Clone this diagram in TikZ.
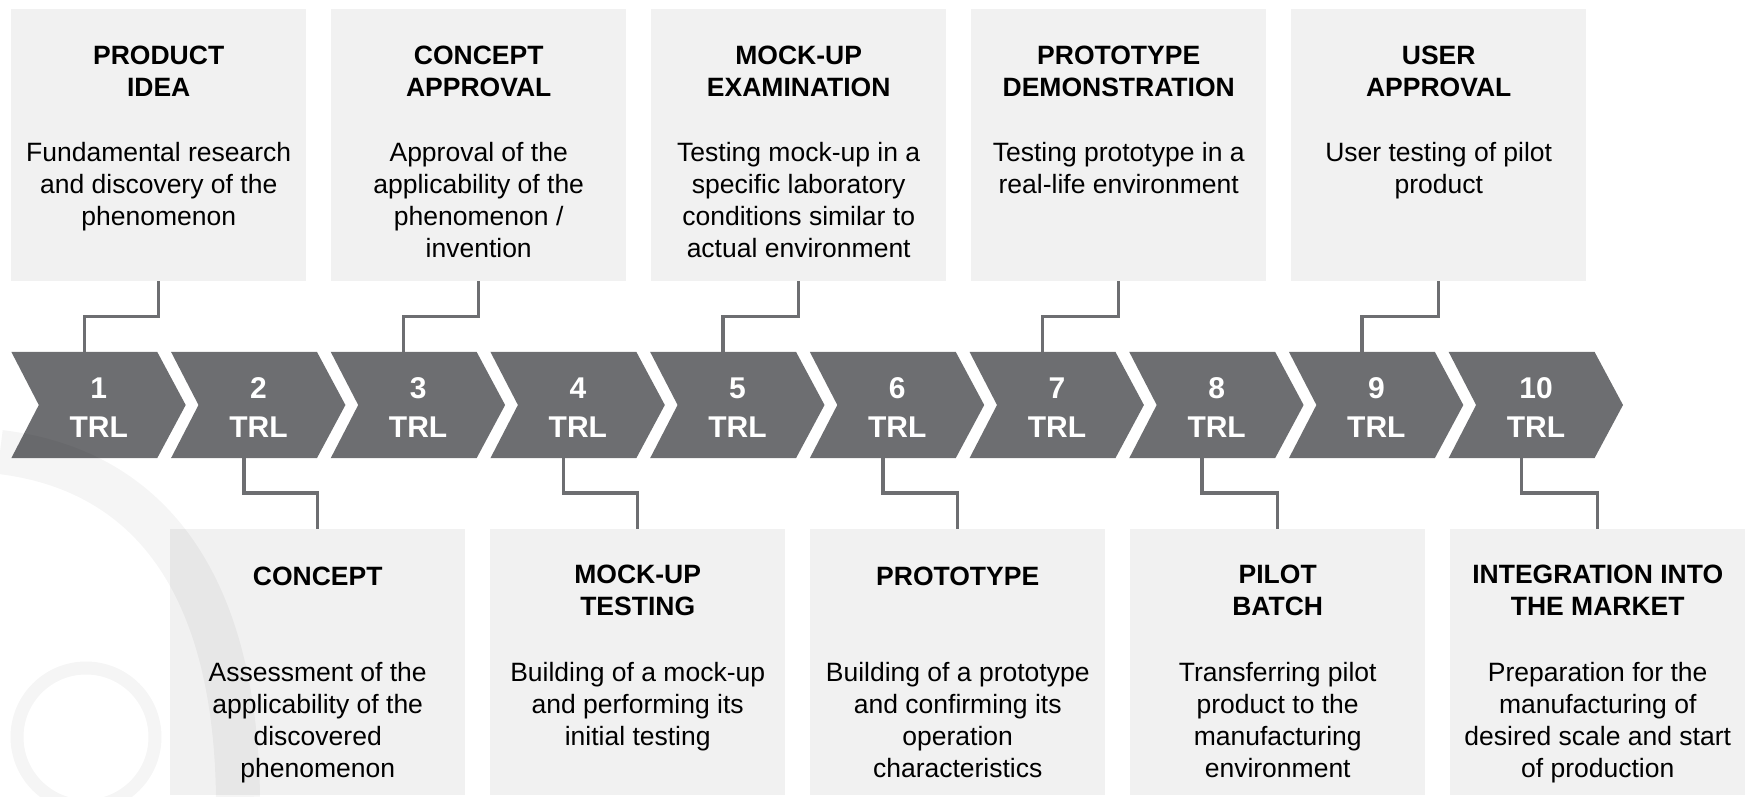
\documentclass[tikz,border=0pt]{standalone}
\usepackage{fontspec}
\setmainfont{Liberation Sans}
\usetikzlibrary{calc}
\pgfdeclarelayer{background}
\pgfsetlayers{background,main}
\definecolor{chev}{HTML}{6D6E71}
\definecolor{boxbg}{HTML}{F1F1F1}
\begin{document}
\begin{tikzpicture}[x=1pt,y=-1pt,
  topbox/.style={fill=boxbg, draw=none, inner sep=0, anchor=north west, minimum width=295pt, minimum height=272pt},
  botbox/.style={topbox, minimum height=266pt},
  ttl/.style={font=\fontsize{26.5}{32}\selectfont\bfseries, align=center, anchor=north, inner sep=0, execute at begin node={\rule{0pt}{20pt}}},
  bdy/.style={font=\fontsize{26.5}{32}\selectfont, align=center, anchor=north, inner sep=0, execute at begin node={\rule{0pt}{20pt}}},
  chevnode/.style={minimum width=145.5pt, minimum height=106pt, inner sep=0},
  chevlabel/.style={inner sep=0, text=white, font=\fontsize{30}{38.5}\selectfont\bfseries, align=center},
  chevshape/.style={fill=chev},
  conn/.style={draw=chev, line width=3.5pt},
  wmark/.style={draw=black, opacity=0.04},
]
\useasboundingbox (0,0) rectangle (1747,797);

% top boxes
\node[topbox] (t1) at (11,9) {};
\node[topbox] (t3) at (331,9) {};
\node[topbox] (t5) at (651,9) {};
\node[topbox] (t7) at (971,9) {};
\node[topbox] (t9) at (1291,9) {};
% bottom boxes
\node[botbox] (b2) at (170,529) {};
\node[botbox] (b4) at (490,529) {};
\node[botbox] (b6) at (810,529) {};
\node[botbox] (b8) at (1130,529) {};
\node[botbox] (b10) at (1450,529) {};

% titles and texts (top)
\node[ttl] (t1h) at ($(t1.north)+(0,37)$) {PRODUCT\\IDEA};
\node[bdy] (t1b) at ($(t1.north)+(0,133)$) {Fundamental research\\and discovery of the\\phenomenon};
\node[ttl] (t3h) at ($(t3.north)+(0,37)$) {CONCEPT\\APPROVAL};
\node[bdy] (t3b) at ($(t3.north)+(0,133)$) {Approval of the\\applicability of the\\phenomenon /\\invention};
\node[ttl] (t5h) at ($(t5.north)+(0,37)$) {MOCK-UP\\EXAMINATION};
\node[bdy] (t5b) at ($(t5.north)+(0,133)$) {Testing mock-up in a\\specific laboratory\\conditions similar to\\actual environment};
\node[ttl] (t7h) at ($(t7.north)+(0,37)$) {PROTOTYPE\\DEMONSTRATION};
\node[bdy] (t7b) at ($(t7.north)+(0,133)$) {Testing prototype in a\\real-life environment};
\node[ttl] (t9h) at ($(t9.north)+(0,37)$) {USER\\APPROVAL};
\node[bdy] (t9b) at ($(t9.north)+(0,133)$) {User testing of pilot\\product};

% titles and texts (bottom)
\node[ttl] (b2h) at ($(b2.north)+(0,36)$) {CONCEPT};
\node[bdy] (b2b) at ($(b2.north)+(0,133)$) {Assessment of the\\applicability of the\\discovered\\phenomenon};
\node[ttl] (b4h) at ($(b4.north)+(0,36)$) {MOCK-UP\\TESTING};
\node[bdy] (b4b) at ($(b4.north)+(0,133)$) {Building of a mock-up\\and performing its\\initial testing};
\node[ttl] (b6h) at ($(b6.north)+(0,36)$) {PROTOTYPE};
\node[bdy] (b6b) at ($(b6.north)+(0,133)$) {Building of a prototype\\and confirming its\\operation\\characteristics};
\node[ttl] (b8h) at ($(b8.north)+(0,36)$) {PILOT\\BATCH};
\node[bdy] (b8b) at ($(b8.north)+(0,133)$) {Transferring pilot\\product to the\\manufacturing\\environment};
\node[ttl] (b10h) at ($(b10.north)+(0,36)$) {INTEGRATION INTO\\THE MARKET};
\node[bdy] (b10b) at ($(b10.north)+(0,133)$) {Preparation for the\\manufacturing of\\desired scale and start\\of production};

% chevrons
\foreach \i in {1,...,10} {
  \node[chevnode] (c\i) at ({84.25+159.7*(\i-1)},405) {};
  \node[chevlabel] (l\i) at ($(c\i.center)+(14.5,2.5)$) {\i\\TRL};
  \begin{pgfonlayer}{background}
    \fill[chevshape] (c\i.north west) -- (c\i.north east) -- ($(c\i.east)+(28.5,0)$)
      -- (c\i.south east) -- (c\i.south west) -- ($(c\i.west)+(27.5,0)$) -- cycle;
  \end{pgfonlayer}
}

% connectors
\foreach \i in {1,3,5,7,9} {
  \draw[conn] (t\i.south) -- ++(0,35) -| (c\i.north);
}
\foreach \i in {2,4,6,8,10} {
  \draw[conn] (c\i.south) -- ++(0,35) -| (b\i.north);
}

% faint watermark
\draw[wmark, line width=13pt] (86,737) circle (69);
\draw[wmark, line width=44pt] (0,452) .. controls (135,468) and (235,565) .. (238,797);
\end{tikzpicture}
\end{document}
